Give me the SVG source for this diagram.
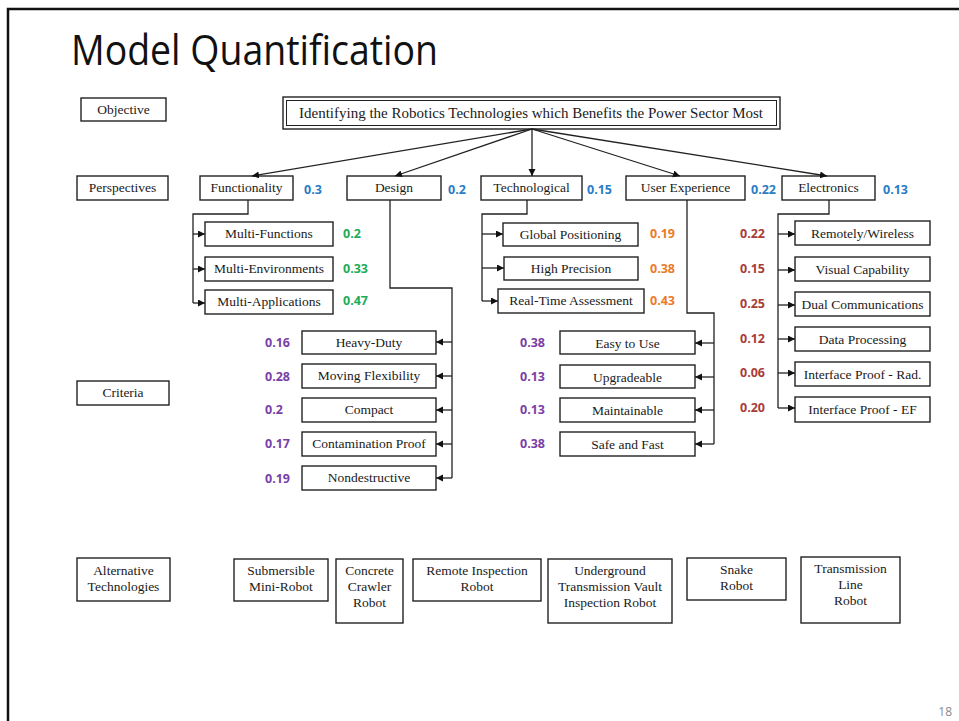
<svg xmlns="http://www.w3.org/2000/svg" width="959" height="721" viewBox="0 0 959 721">
  <defs>
    <marker id="arrow" markerUnits="userSpaceOnUse" markerWidth="8" markerHeight="8" refX="7" refY="3.5" orient="auto">
      <path d="M0,0 L7,3.5 L0,7 z" fill="#111"/>
    </marker>
    <style>
      .box { fill: #fff; stroke: #222; stroke-width: 1.4; }
      .lbl { font-family: "Liberation Serif", "Times New Roman", serif; font-size: 13.5px; fill: #1a1a1a; text-anchor: middle; }
      .big { font-size: 15px; }
      .wire { fill: none; stroke: #222; stroke-width: 1.3; }
      .arr { fill: none; stroke: #222; stroke-width: 1.3; marker-end: url(#arrow); }
      .val { font-family: "Open Sans", "Liberation Sans", sans-serif; font-size: 12.5px; font-weight: bold; }
      .blue { fill: #2a7cc4; }
      .green { fill: #22ab58; }
      .orange { fill: #ea7b2a; }
      .purple { fill: #7a3ea8; }
      .red { fill: #a83c38; }
    </style>
  </defs>

  <rect x="0" y="0" width="959" height="721" fill="#fff"/>
  <!-- slide frame -->
  <path d="M8,721 V9 H959" fill="none" stroke="#111" stroke-width="2.5"/>

  <text x="71" y="65" font-family="Open Sans, Liberation Sans, sans-serif" font-size="42" fill="#111" textLength="367" lengthAdjust="spacingAndGlyphs">Model Quantification</text>
  <text x="952" y="716" font-family="Open Sans, Liberation Sans, sans-serif" font-size="12" fill="#8a8a8a" text-anchor="end">18</text>

  <!-- level labels -->
  <g id="label-objective"><rect class="box" x="81" y="98" width="85" height="23"/><text class="lbl" x="123.5" y="114">Objective</text></g>
  <g id="label-perspectives"><rect class="box" x="77" y="176" width="91" height="24"/><text class="lbl" x="122.5" y="192">Perspectives</text></g>
  <g id="label-criteria"><rect class="box" x="77" y="381" width="92" height="24"/><text class="lbl" x="123" y="397">Criteria</text></g>
  <g id="label-alternatives"><rect class="box" x="77" y="558" width="93" height="43"/><text class="lbl" x="123.5" y="575">Alternative</text><text class="lbl" x="123.5" y="591">Technologies</text></g>

  <!-- objective -->
  <g id="objective">
    <rect class="box" x="283" y="97" width="497" height="32"/>
    <rect fill="none" stroke="#222" stroke-width="1" x="286.5" y="100.5" width="490" height="25"/>
    <text class="lbl big" x="531" y="118">Identifying the Robotics Technologies which Benefits the Power Sector Most</text>
  </g>

  <!-- perspectives -->
  <g id="p-functionality"><rect class="box" x="200" y="176" width="93" height="24"/><text class="lbl" x="246.5" y="192">Functionality</text><text class="val blue" x="304" y="194">0.3</text></g>
  <g id="p-design"><rect class="box" x="347" y="176" width="94" height="24"/><text class="lbl" x="394" y="192">Design</text><text class="val blue" x="448" y="194">0.2</text></g>
  <g id="p-technological"><rect class="box" x="481" y="176" width="101" height="24"/><text class="lbl" x="531.5" y="192">Technological</text><text class="val blue" x="587" y="194">0.15</text></g>
  <g id="p-user-experience"><rect class="box" x="626" y="176" width="119" height="24"/><text class="lbl" x="685.5" y="192">User Experience</text><text class="val blue" x="751" y="194">0.22</text></g>
  <g id="p-electronics"><rect class="box" x="782" y="176" width="93" height="24"/><text class="lbl" x="828.5" y="192">Electronics</text><text class="val blue" x="883" y="194">0.13</text></g>

  <!-- functionality criteria -->
  <g id="c-multi-functions"><rect class="box" x="205" y="222" width="128" height="24"/><text class="lbl" x="269" y="238">Multi-Functions</text><text class="val green" x="343" y="238">0.2</text></g>
  <g id="c-multi-environments"><rect class="box" x="205" y="257" width="128" height="24"/><text class="lbl" x="269" y="273">Multi-Environments</text><text class="val green" x="343" y="273">0.33</text></g>
  <g id="c-multi-applications"><rect class="box" x="205" y="290" width="128" height="24"/><text class="lbl" x="269" y="306">Multi-Applications</text><text class="val green" x="343" y="305">0.47</text></g>

  <!-- design criteria -->
  <g id="c-heavy-duty"><rect class="box" x="302" y="331" width="134" height="23"/><text class="lbl" x="369" y="347">Heavy-Duty</text><text class="val purple" x="265" y="347">0.16</text></g>
  <g id="c-moving-flexibility"><rect class="box" x="302" y="364" width="134" height="24"/><text class="lbl" x="369" y="380">Moving Flexibility</text><text class="val purple" x="265" y="381">0.28</text></g>
  <g id="c-compact"><rect class="box" x="302" y="398" width="134" height="24"/><text class="lbl" x="369" y="414">Compact</text><text class="val purple" x="265" y="414">0.2</text></g>
  <g id="c-contamination-proof"><rect class="box" x="302" y="432" width="134" height="24"/><text class="lbl" x="369" y="448">Contamination Proof</text><text class="val purple" x="265" y="448">0.17</text></g>
  <g id="c-nondestructive"><rect class="box" x="302" y="466" width="134" height="24"/><text class="lbl" x="369" y="482">Nondestructive</text><text class="val purple" x="265" y="483">0.19</text></g>

  <!-- technological criteria -->
  <g id="c-global-positioning"><rect class="box" x="503" y="223" width="135" height="23"/><text class="lbl" x="570.5" y="239">Global Positioning</text><text class="val orange" x="650" y="238">0.19</text></g>
  <g id="c-high-precision"><rect class="box" x="504" y="257" width="134" height="23"/><text class="lbl" x="571" y="273">High Precision</text><text class="val orange" x="650" y="273">0.38</text></g>
  <g id="c-real-time"><rect class="box" x="498" y="289" width="146" height="24"/><text class="lbl" x="571" y="305">Real-Time Assessment</text><text class="val orange" x="650" y="305">0.43</text></g>

  <!-- user experience criteria -->
  <g id="c-easy-to-use"><rect class="box" x="560" y="331" width="135" height="23"/><text class="lbl" x="627.5" y="348">Easy to Use</text><text class="val purple" x="520" y="347">0.38</text></g>
  <g id="c-upgradeable"><rect class="box" x="560" y="365" width="135" height="23"/><text class="lbl" x="627.5" y="382">Upgradeable</text><text class="val purple" x="520" y="381">0.13</text></g>
  <g id="c-maintainable"><rect class="box" x="560" y="398" width="135" height="24"/><text class="lbl" x="627.5" y="415">Maintainable</text><text class="val purple" x="520" y="414">0.13</text></g>
  <g id="c-safe-and-fast"><rect class="box" x="560" y="432" width="135" height="24"/><text class="lbl" x="627.5" y="449">Safe and Fast</text><text class="val purple" x="520" y="448">0.38</text></g>

  <!-- electronics criteria -->
  <g id="c-remotely-wireless"><rect class="box" x="795" y="221" width="135" height="24"/><text class="lbl" x="862.5" y="238">Remotely/Wireless</text><text class="val red" x="740" y="238">0.22</text></g>
  <g id="c-visual-capability"><rect class="box" x="795" y="257" width="135" height="24"/><text class="lbl" x="862.5" y="274">Visual Capability</text><text class="val red" x="740" y="273">0.15</text></g>
  <g id="c-dual-communications"><rect class="box" x="795" y="292" width="135" height="24"/><text class="lbl" x="862.5" y="309">Dual Communications</text><text class="val red" x="740" y="308">0.25</text></g>
  <g id="c-data-processing"><rect class="box" x="795" y="327" width="135" height="24"/><text class="lbl" x="862.5" y="344">Data Processing</text><text class="val red" x="740" y="343">0.12</text></g>
  <g id="c-interface-rad"><rect class="box" x="795" y="362" width="135" height="24"/><text class="lbl" x="862.5" y="379">Interface Proof - Rad.</text><text class="val red" x="740" y="377">0.06</text></g>
  <g id="c-interface-ef"><rect class="box" x="795" y="397" width="135" height="25"/><text class="lbl" x="862.5" y="414">Interface Proof - EF</text><text class="val red" x="740" y="412">0.20</text></g>

  <!-- alternative technologies -->
  <g id="a-submersible"><rect class="box" x="234" y="559" width="94" height="42"/><text class="lbl" x="281" y="575">Submersible</text><text class="lbl" x="281" y="591">Mini-Robot</text></g>
  <g id="a-concrete-crawler"><rect class="box" x="336" y="559" width="67" height="64"/><text class="lbl" x="369.5" y="575">Concrete</text><text class="lbl" x="369.5" y="591">Crawler</text><text class="lbl" x="369.5" y="607">Robot</text></g>
  <g id="a-remote-inspection"><rect class="box" x="413" y="559" width="128" height="42"/><text class="lbl" x="477" y="575">Remote Inspection</text><text class="lbl" x="477" y="591">Robot</text></g>
  <g id="a-vault-inspection"><rect class="box" x="548" y="559" width="124" height="64"/><text class="lbl" x="610" y="575">Underground</text><text class="lbl" x="610" y="591">Transmission Vault</text><text class="lbl" x="610" y="607">Inspection Robot</text></g>
  <g id="a-snake"><rect class="box" x="687" y="558" width="99" height="42"/><text class="lbl" x="736.5" y="574">Snake</text><text class="lbl" x="736.5" y="590">Robot</text></g>
  <g id="a-transmission-line"><rect class="box" x="801" y="557" width="99" height="66"/><text class="lbl" x="850.5" y="573">Transmission</text><text class="lbl" x="850.5" y="589">Line</text><text class="lbl" x="850.5" y="605">Robot</text></g>

  <!-- connectors -->
  <g id="connectors">
    <line class="arr" x1="532" y1="129" x2="252" y2="176"/>
    <line class="arr" x1="532" y1="129" x2="395" y2="176"/>
    <line class="arr" x1="532" y1="129" x2="532" y2="176"/>
    <line class="arr" x1="532" y1="129" x2="680" y2="176"/>
    <line class="arr" x1="532" y1="129" x2="827" y2="176"/>

    <path class="wire" d="M248,200 V214 H193 V303"/>
    <path class="arr" d="M193,234 H205"/>
    <path class="arr" d="M193,269 H205"/>
    <path class="arr" d="M193,303 H205"/>

    <path class="wire" d="M390,200 V288 H452 V478"/>
    <path class="arr" d="M452,342 H436"/>
    <path class="arr" d="M452,376 H436"/>
    <path class="arr" d="M452,410 H436"/>
    <path class="arr" d="M452,444 H436"/>
    <path class="arr" d="M452,478 H436"/>

    <path class="wire" d="M527,200 V214 H482 V301"/>
    <path class="arr" d="M482,234 H503"/>
    <path class="arr" d="M482,268 H504"/>
    <path class="arr" d="M482,301 H498"/>

    <path class="wire" d="M687,200 V313 H714 V444"/>
    <path class="arr" d="M714,343 H695"/>
    <path class="arr" d="M714,377 H695"/>
    <path class="arr" d="M714,410 H695"/>
    <path class="arr" d="M714,444 H695"/>

    <path class="wire" d="M829,200 V214 H778 V408"/>
    <path class="arr" d="M778,234 H795"/>
    <path class="arr" d="M778,270 H795"/>
    <path class="arr" d="M778,305 H795"/>
    <path class="arr" d="M778,339 H795"/>
    <path class="arr" d="M778,373 H795"/>
    <path class="arr" d="M778,408 H795"/>
  </g>
</svg>
